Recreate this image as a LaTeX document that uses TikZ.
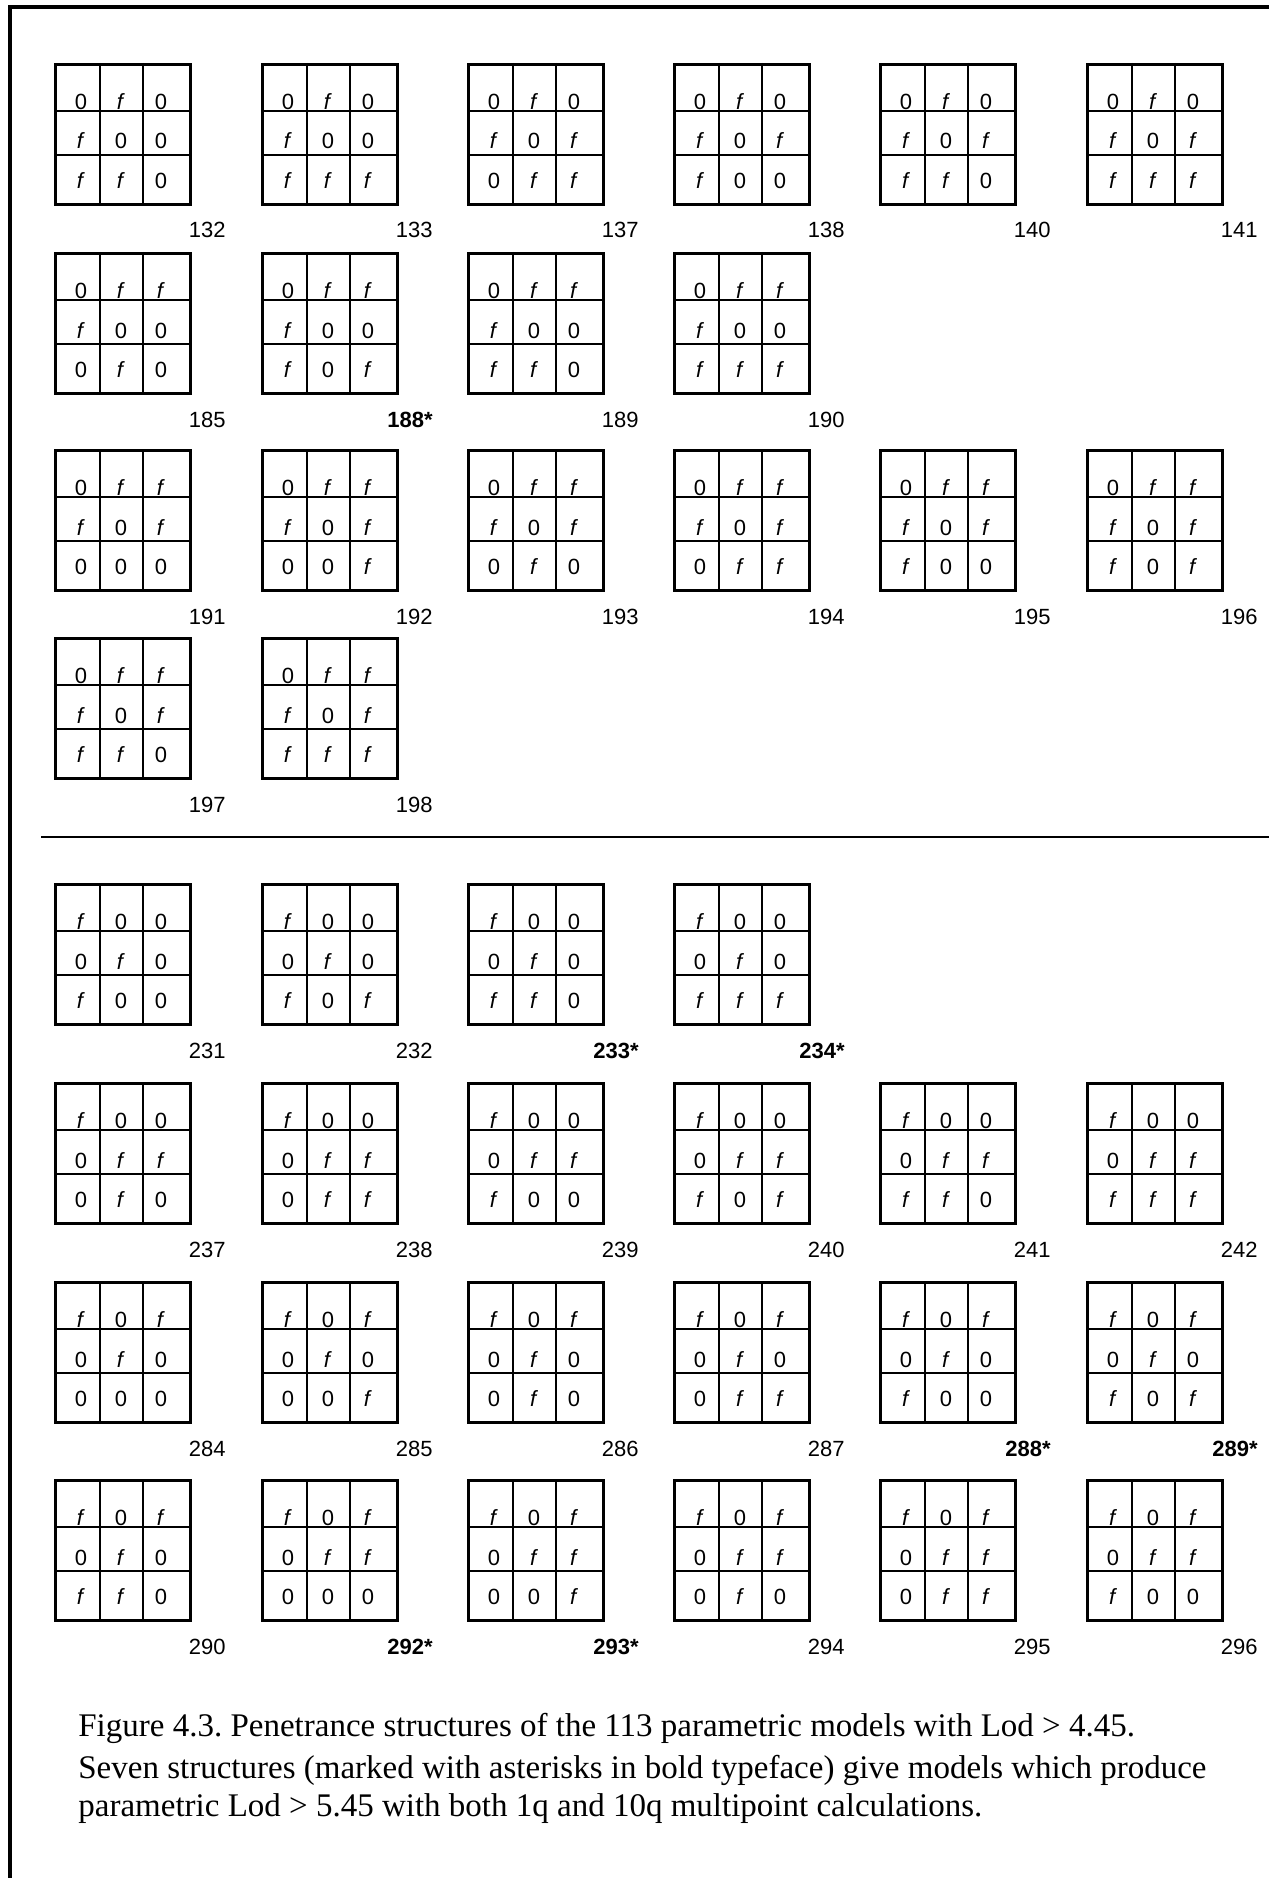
\documentclass[tikz,border=0pt]{standalone}
\usepackage{fontspec}
\setmainfont{Liberation Serif}
\newfontfamily\arialf{Liberation Sans}
\frenchspacing
\begin{document}
\begin{tikzpicture}[x=0.5pt,y=-0.5pt,
  gridbox/.style={draw, line width=1.3pt, minimum width=67.5pt, minimum height=70pt, inner sep=0pt},
  cellline/.style={line width=1.2pt},
  celltext/.style={inner sep=0pt, font=\arialf\fontsize{11pt}{13pt}\selectfont},
  lab/.style={inner sep=0pt, font=\arialf\fontsize{11pt}{13pt}\selectfont},
  labstar/.style={inner sep=0pt, font=\arialf\bfseries\fontsize{11pt}{13pt}\selectfont},
  frameline/.style={line width=1.6pt},
  sepline/.style={line width=1.1pt},
  captext/.style={inner sep=0pt, anchor=base west, font=\fontsize{16.5pt}{21pt}\selectfont}]
\newcommand{\pengrid}[6]{%
  \begin{scope}[shift={(#1,#2)}]
    \node[gridbox, anchor=north west] (g#4) at (0,0) {};
    \draw[cellline] (46,0) -- (46,140) (89,0) -- (89,140) (0,48) -- (135,48) (0,92) -- (135,92);
    \foreach \v [count=\i from 0] in {#3} {
      \pgfmathtruncatemacro\rr{int(\i/3)}
      \pgfmathtruncatemacro\cc{mod(\i,3)}
      \pgfmathsetmacro\cx{27+40*\cc}
      \pgfmathsetmacro\cy{46.5+39.5*\rr}
      \node[celltext, anchor=base] (g#4-\i) at (\cx,\cy) {\if f\v\textit{f}\else 0\fi};
    }
    \node[#5, anchor=base east] (l#4) at (172,175) {#6};
  \end{scope}}
\useasboundingbox (0,0) rectangle (1269,1878);
\fill[white] (0,0) rectangle (1269,1878);
\coordinate (fb) at (10,1878);
\coordinate (ftl) at (10,7);
\coordinate (ftr) at (1269,7);
\draw[frameline] (fb) -- (ftl) -- (ftr);
\coordinate (sl) at (41,837);
\coordinate (sr) at (1269,837);
\draw[sepline] (sl) -- (sr);
% upper row 1
\pengrid{54}{63}{0,f,0,f,0,0,f,f,0}{132}{lab}{132}
\pengrid{261}{63}{0,f,0,f,0,0,f,f,f}{133}{lab}{133}
\pengrid{467}{63}{0,f,0,f,0,f,0,f,f}{137}{lab}{137}
\pengrid{673}{63}{0,f,0,f,0,f,f,0,0}{138}{lab}{138}
\pengrid{879}{63}{0,f,0,f,0,f,f,f,0}{140}{lab}{140}
\pengrid{1086}{63}{0,f,0,f,0,f,f,f,f}{141}{lab}{141}
% upper row 2
\pengrid{54}{252}{0,f,f,f,0,0,0,f,0}{185}{lab}{185}
\pengrid{261}{252}{0,f,f,f,0,0,f,0,f}{188}{labstar}{188*}
\pengrid{467}{252}{0,f,f,f,0,0,f,f,0}{189}{lab}{189}
\pengrid{673}{252}{0,f,f,f,0,0,f,f,f}{190}{lab}{190}
% upper row 3
\pengrid{54}{449}{0,f,f,f,0,f,0,0,0}{191}{lab}{191}
\pengrid{261}{449}{0,f,f,f,0,f,0,0,f}{192}{lab}{192}
\pengrid{467}{449}{0,f,f,f,0,f,0,f,0}{193}{lab}{193}
\pengrid{673}{449}{0,f,f,f,0,f,0,f,f}{194}{lab}{194}
\pengrid{879}{449}{0,f,f,f,0,f,f,0,0}{195}{lab}{195}
\pengrid{1086}{449}{0,f,f,f,0,f,f,0,f}{196}{lab}{196}
% upper row 4
\pengrid{54}{637}{0,f,f,f,0,f,f,f,0}{197}{lab}{197}
\pengrid{261}{637}{0,f,f,f,0,f,f,f,f}{198}{lab}{198}
% lower row 1
\pengrid{54}{883}{f,0,0,0,f,0,f,0,0}{231}{lab}{231}
\pengrid{261}{883}{f,0,0,0,f,0,f,0,f}{232}{lab}{232}
\pengrid{467}{883}{f,0,0,0,f,0,f,f,0}{233}{labstar}{233*}
\pengrid{673}{883}{f,0,0,0,f,0,f,f,f}{234}{labstar}{234*}
% lower row 2
\pengrid{54}{1082}{f,0,0,0,f,f,0,f,0}{237}{lab}{237}
\pengrid{261}{1082}{f,0,0,0,f,f,0,f,f}{238}{lab}{238}
\pengrid{467}{1082}{f,0,0,0,f,f,f,0,0}{239}{lab}{239}
\pengrid{673}{1082}{f,0,0,0,f,f,f,0,f}{240}{lab}{240}
\pengrid{879}{1082}{f,0,0,0,f,f,f,f,0}{241}{lab}{241}
\pengrid{1086}{1082}{f,0,0,0,f,f,f,f,f}{242}{lab}{242}
% lower row 3
\pengrid{54}{1281}{f,0,f,0,f,0,0,0,0}{284}{lab}{284}
\pengrid{261}{1281}{f,0,f,0,f,0,0,0,f}{285}{lab}{285}
\pengrid{467}{1281}{f,0,f,0,f,0,0,f,0}{286}{lab}{286}
\pengrid{673}{1281}{f,0,f,0,f,0,0,f,f}{287}{lab}{287}
\pengrid{879}{1281}{f,0,f,0,f,0,f,0,0}{288}{labstar}{288*}
\pengrid{1086}{1281}{f,0,f,0,f,0,f,0,f}{289}{labstar}{289*}
% lower row 4
\pengrid{54}{1479}{f,0,f,0,f,0,f,f,0}{290}{lab}{290}
\pengrid{261}{1479}{f,0,f,0,f,f,0,0,0}{292}{labstar}{292*}
\pengrid{467}{1479}{f,0,f,0,f,f,0,0,f}{293}{labstar}{293*}
\pengrid{673}{1479}{f,0,f,0,f,f,0,f,0}{294}{lab}{294}
\pengrid{879}{1479}{f,0,f,0,f,f,0,f,f}{295}{lab}{295}
\pengrid{1086}{1479}{f,0,f,0,f,f,f,0,0}{296}{lab}{296}
% caption
\node[captext] (cap1) at (78,1736) {Figure 4.3. Penetrance structures of the 113 parametric models with Lod > 4.45.};
\node[captext] (cap2) at (78,1778) {Seven structures (marked with asterisks in bold typeface) give models which produce};
\node[captext] (cap3) at (78,1816) {parametric Lod > 5.45 with both 1q and 10q multipoint calculations.};
\end{tikzpicture}
\end{document}
